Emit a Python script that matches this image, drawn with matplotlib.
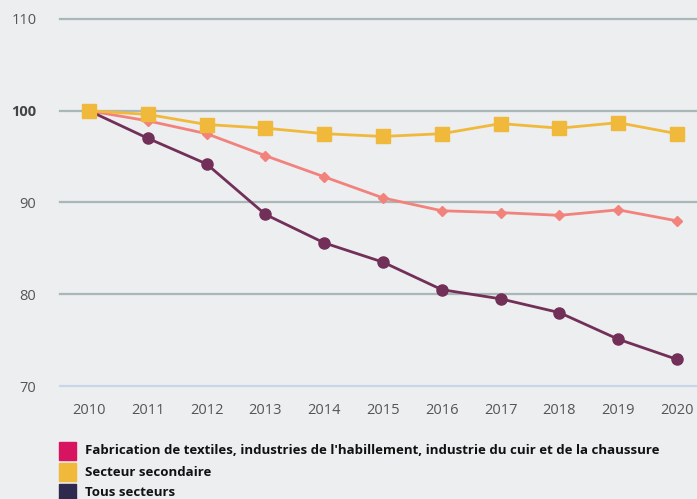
import matplotlib.pyplot as plt
from matplotlib.patches import Rectangle

years = [2010, 2011, 2012, 2013, 2014, 2015, 2016, 2017, 2018, 2019, 2020]
textile = [100, 98.9, 97.5, 95.1, 92.8, 90.5, 89.1, 88.9, 88.6, 89.2, 88.0]
secondaire = [100, 99.6, 98.5, 98.1, 97.5, 97.2, 97.5, 98.6, 98.1, 98.7, 97.5]
tous = [100, 97.0, 94.2, 88.7, 85.6, 83.5, 80.5, 79.5, 78.0, 75.1, 72.9]

legend_labels = [
    "Fabrication de textiles, industries de l'habillement, industrie du cuir et de la chaussure",
    "Secteur secondaire",
    "Tous secteurs",
]
legend_colors = ["#D6145F", "#F0B93B", "#2E2A4D"]
yticks = [70, 80, 90, 100, 110]

bg = "#ECEEF0"
plt.rcParams["font.family"] = ["Open Sans", "DejaVu Sans"]

fig = plt.figure(figsize=(6.97, 4.99), dpi=100, facecolor=bg)
W, H = 697, 499
ax = fig.add_axes([60 / W, 1 - 386 / H, 1 - 60 / W, (386 - 19) / H])
ax.set_facecolor(bg)

for t in yticks:
    col = "#C9D5E8" if t == 70 else "#A9B7B6"
    ax.axhline(t, color=col, lw=1.6, zorder=1, clip_on=False)

ax.plot(years, secondaire, color="#F0B93B", lw=2, marker="s", ms=9.5, zorder=4)
ax.plot(years, textile, color="#F2827C", lw=2, marker="D", ms=5.5, zorder=3)
ax.plot(years, tous, color="#722F58", lw=2, marker="o", ms=8, zorder=3)

ax.set_ylim(70, 110)
ax.set_xlim(2010 - 29 / 58.8, 2020 + 20 / 58.8)
for s in ax.spines.values():
    s.set_visible(False)
ax.set_yticks(yticks)
ax.set_xticks(years)
ax.set_xticklabels([str(y) for y in years])
ax.tick_params(length=0, labelsize=10.5, colors="#555555", pad=12)
ax.tick_params(axis="y", pad=17)
for lab in ax.get_yticklabels():
    if lab.get_text() == "100":
        lab.set_fontweight("bold")
        lab.set_color("#444444")

rows = [451, 472, 493]
for lab, col, yy in zip(legend_labels, legend_colors, rows):
    fig.patches.append(Rectangle((59 / W, 1 - (yy + 9) / H), 17 / W, 18 / H,
                                 transform=fig.transFigure, color=col))
    fig.text(85 / W, 1 - yy / H, lab, fontsize=9.5, fontweight="bold",
             color="#111111", va="center", ha="left")

fig.savefig("out.png", dpi=100, facecolor=bg)
